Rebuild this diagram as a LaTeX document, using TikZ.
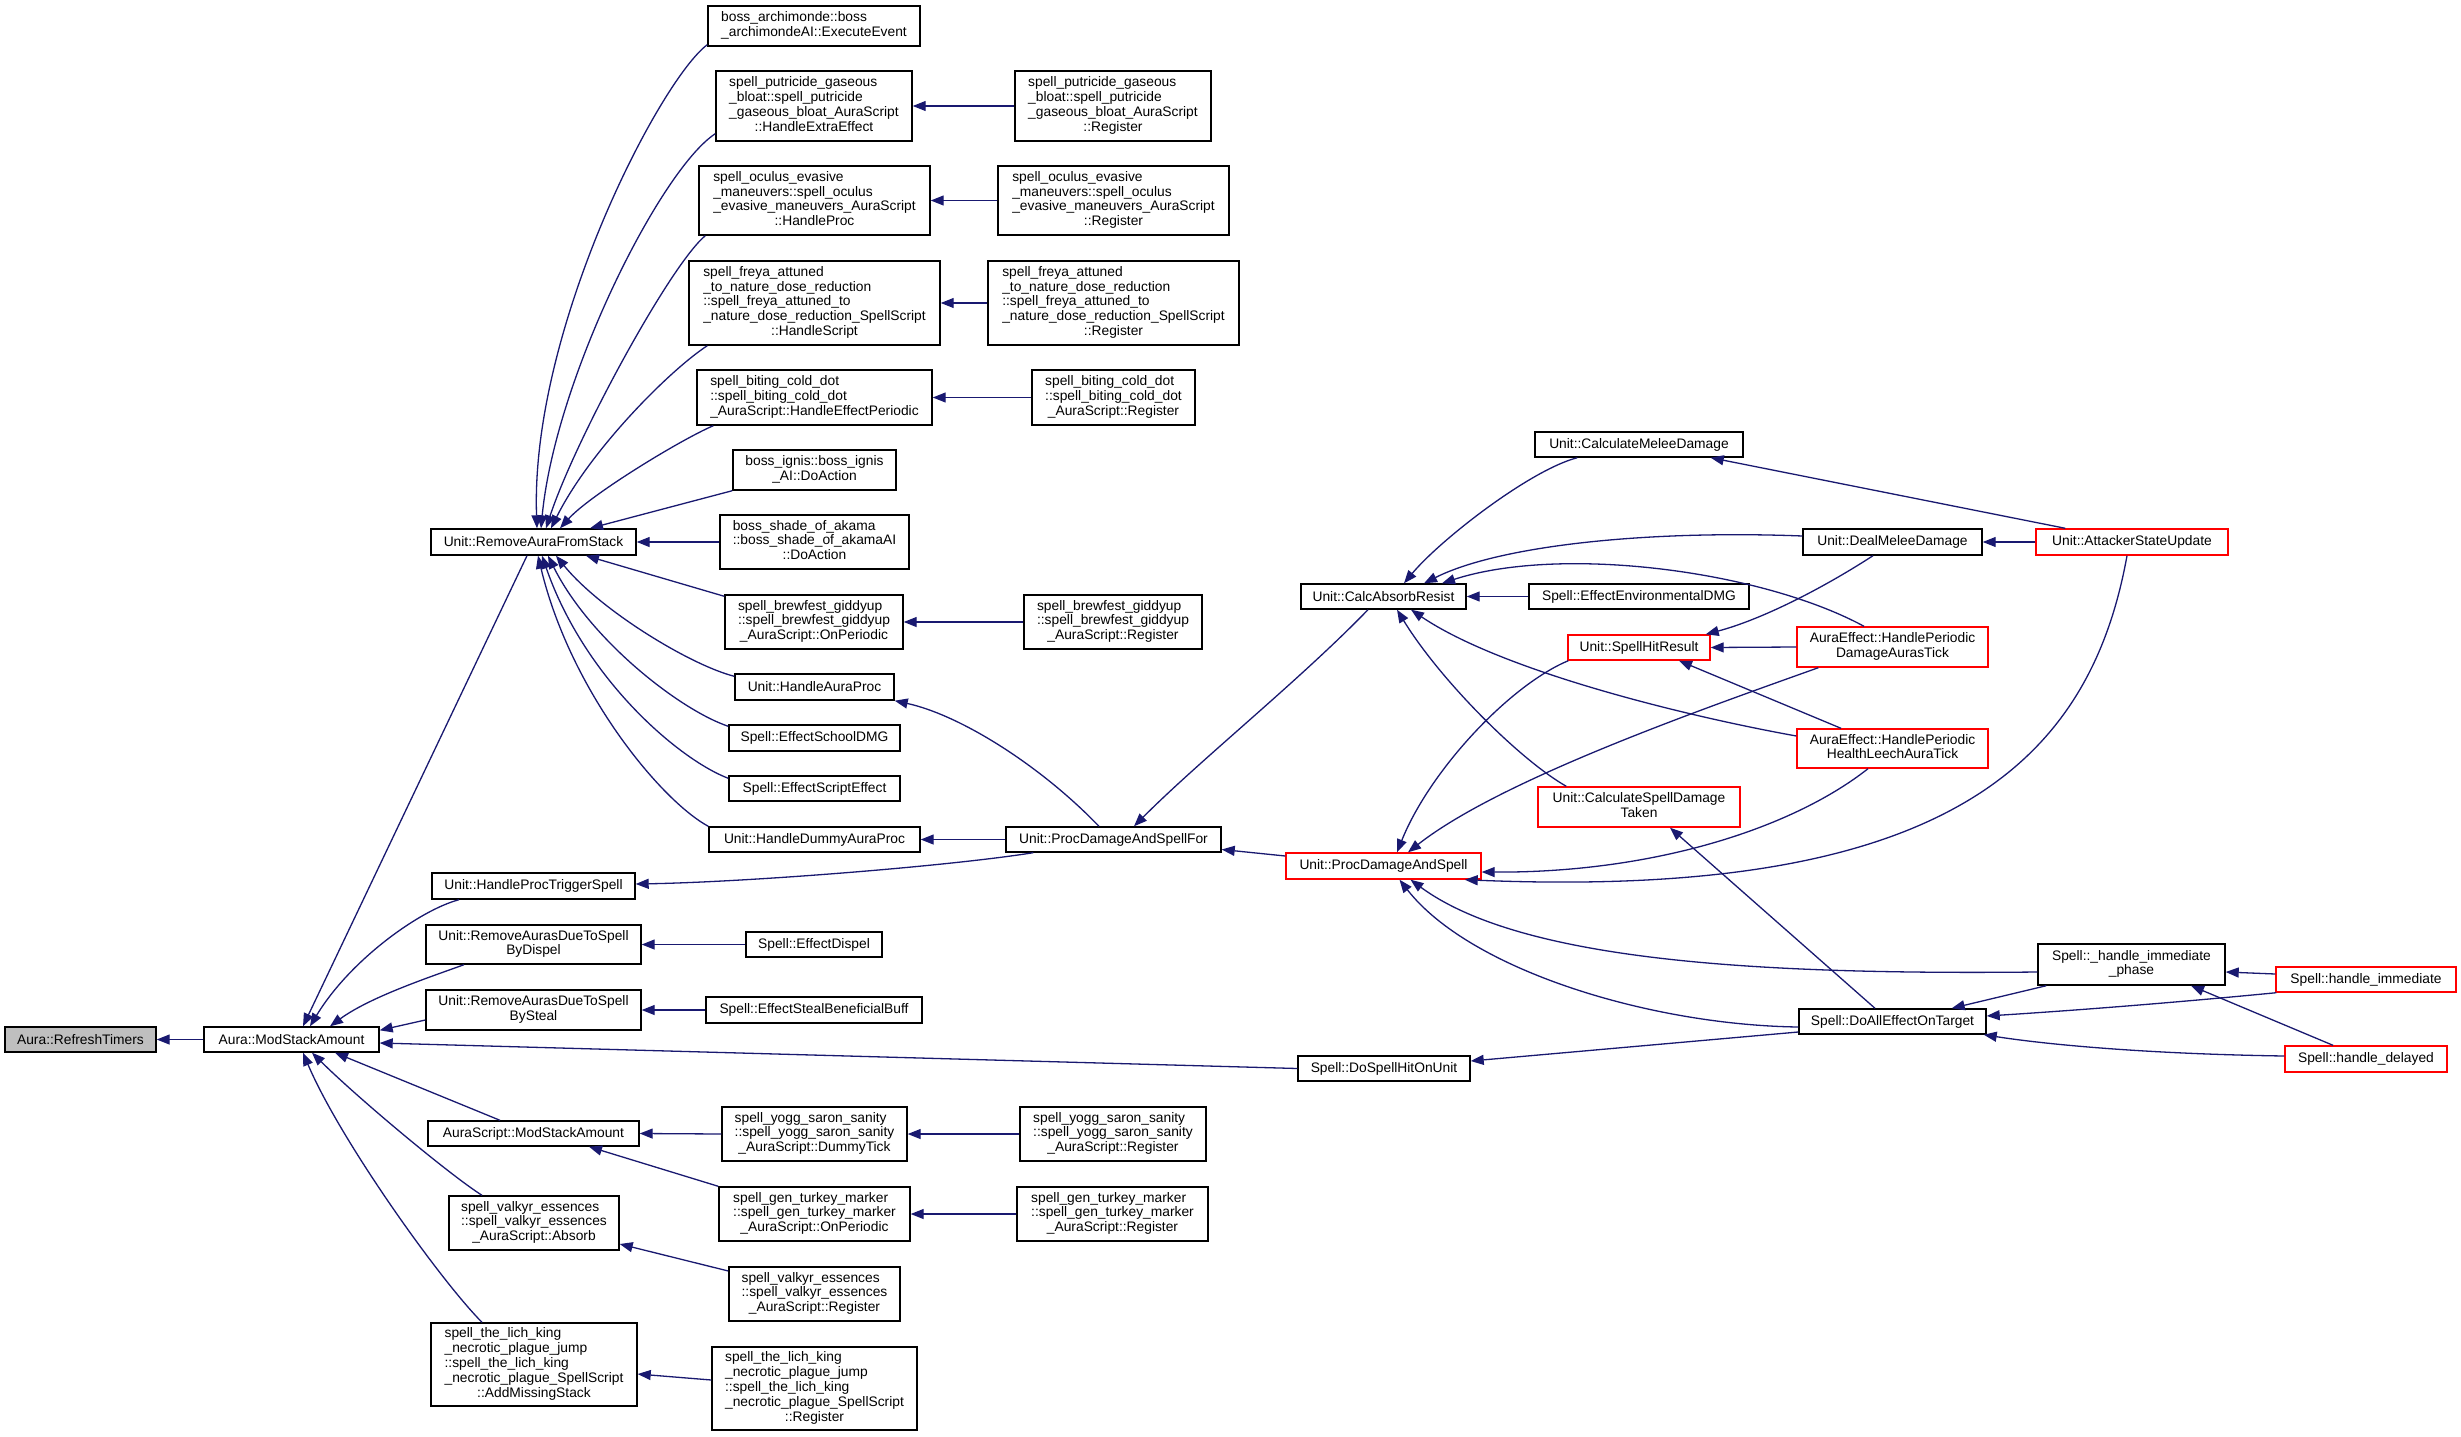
\documentclass[tikz,border=0pt]{standalone}
\usepackage{fontspec}
\setmainfont{Liberation Sans}
\usetikzlibrary{arrows.meta}
\definecolor{edgecol}{HTML}{191970}
\definecolor{nred}{HTML}{FF0000}
\definecolor{ngray}{HTML}{BFBFBF}
\newcommand{\fnt}{\fontsize{13.8}{14.8}\selectfont}
\newcommand{\ml}[2]{\begin{tabular}{@{}l@{}}#1\\\multicolumn{1}{@{}c@{}}{#2}\end{tabular}}
\tikzset{
  nbox/.style={draw=black, line width=1.4pt, fill=white, inner sep=0pt, font=\fnt},
  rbox/.style={nbox, draw=nred},
  gbox/.style={nbox, fill=ngray},
  calledge/.style={draw=edgecol, line width=1.3pt, -{Triangle[length=13pt,width=10pt]}}
}
\begin{document}
\begin{tikzpicture}[x=1pt,y=-1pt]
\useasboundingbox[fill=white] (0,0) rectangle (2461,1437);
% ---------- nodes ----------
\node[gbox, minimum width=151pt, minimum height=25pt] (rt) at (80.5,1039.5) {Aura::RefreshTimers};
\node[nbox, minimum width=175pt, minimum height=25pt] (msa) at (291.5,1039.5) {Aura::ModStackAmount};
\node[nbox, minimum width=205pt, minimum height=26pt] (rafs) at (533.5,542) {Unit::RemoveAuraFromStack};
\node[nbox, minimum width=203pt, minimum height=26pt] (hpts) at (533.5,886) {Unit::HandleProcTriggerSpell};
\node[nbox, minimum width=215pt, minimum height=39pt] (bydispel) at (533.5,944.5) {\ml{Unit::RemoveAurasDueToSpell}{ByDispel}};
\node[nbox, minimum width=215pt, minimum height=40pt] (bysteal) at (533.5,1010) {\ml{Unit::RemoveAurasDueToSpell}{BySteal}};
\node[nbox, minimum width=211pt, minimum height=25pt] (asmsa) at (533.5,1133.5) {AuraScript::ModStackAmount};
\node[nbox, minimum width=170pt, minimum height=54pt] (valkA) at (534,1223) {\ml{spell\_valkyr\_essences\\::spell\_valkyr\_essences}{\_AuraScript::Absorb}};
\node[nbox, minimum width=206pt, minimum height=83pt] (lichA) at (534,1364.5) {\ml{spell\_the\_lich\_king\\\_necrotic\_plague\_jump\\::spell\_the\_lich\_king\\\_necrotic\_plague\_SpellScript}{::AddMissingStack}};
\node[nbox, minimum width=212pt, minimum height=40pt] (arch) at (814,26) {\ml{boss\_archimonde::boss}{\_archimondeAI::ExecuteEvent}};
\node[nbox, minimum width=196pt, minimum height=70pt] (putH) at (814,106) {\ml{spell\_putricide\_gaseous\\\_bloat::spell\_putricide\\\_gaseous\_bloat\_AuraScript}{::HandleExtraEffect}};
\node[nbox, minimum width=231pt, minimum height=69pt] (ocuH) at (814.5,200.5) {\ml{spell\_oculus\_evasive\\\_maneuvers::spell\_oculus\\\_evasive\_maneuvers\_AuraScript}{::HandleProc}};
\node[nbox, minimum width=251pt, minimum height=84pt] (freH) at (814.5,303) {\ml{spell\_freya\_attuned\\\_to\_nature\_dose\_reduction\\::spell\_freya\_attuned\_to\\\_nature\_dose\_reduction\_SpellScript}{::HandleScript}};
\node[nbox, minimum width=235pt, minimum height=55pt] (bitH) at (814.5,397.5) {\ml{spell\_biting\_cold\_dot\\::spell\_biting\_cold\_dot}{\_AuraScript::HandleEffectPeriodic}};
\node[nbox, minimum width=163pt, minimum height=40pt] (ignis) at (814.5,470) {\ml{boss\_ignis::boss\_ignis}{\_AI::DoAction}};
\node[nbox, minimum width=189pt, minimum height=54pt] (shade) at (814.5,542) {\ml{boss\_shade\_of\_akama\\::boss\_shade\_of\_akamaAI}{::DoAction}};
\node[nbox, minimum width=178pt, minimum height=54pt] (brewO) at (814,622) {\ml{spell\_brewfest\_giddyup\\::spell\_brewfest\_giddyup}{\_AuraScript::OnPeriodic}};
\node[nbox, minimum width=159pt, minimum height=26pt] (hap) at (814.5,687) {Unit::HandleAuraProc};
\node[nbox, minimum width=171pt, minimum height=26pt] (esd) at (814.5,738) {Spell::EffectSchoolDMG};
\node[nbox, minimum width=171pt, minimum height=25pt] (ese) at (814.5,788.5) {Spell::EffectScriptEffect};
\node[nbox, minimum width=211pt, minimum height=25pt] (hdap) at (814.5,839.5) {Unit::HandleDummyAuraProc};
\node[nbox, minimum width=196pt, minimum height=70pt] (putR) at (1113,106) {\ml{spell\_putricide\_gaseous\\\_bloat::spell\_putricide\\\_gaseous\_bloat\_AuraScript}{::Register}};
\node[nbox, minimum width=231pt, minimum height=69pt] (ocuR) at (1113.5,200.5) {\ml{spell\_oculus\_evasive\\\_maneuvers::spell\_oculus\\\_evasive\_maneuvers\_AuraScript}{::Register}};
\node[nbox, minimum width=251pt, minimum height=84pt] (freR) at (1113.5,303) {\ml{spell\_freya\_attuned\\\_to\_nature\_dose\_reduction\\::spell\_freya\_attuned\_to\\\_nature\_dose\_reduction\_SpellScript}{::Register}};
\node[nbox, minimum width=163pt, minimum height=55pt] (bitR) at (1113.5,397.5) {\ml{spell\_biting\_cold\_dot\\::spell\_biting\_cold\_dot}{\_AuraScript::Register}};
\node[nbox, minimum width=178pt, minimum height=54pt] (brewR) at (1113,622) {\ml{spell\_brewfest\_giddyup\\::spell\_brewfest\_giddyup}{\_AuraScript::Register}};
\node[nbox, minimum width=215pt, minimum height=25pt] (pdsf) at (1113.5,839.5) {Unit::ProcDamageAndSpellFor};
\node[nbox, minimum width=136pt, minimum height=25pt] (edisp) at (814,944.5) {Spell::EffectDispel};
\node[nbox, minimum width=216pt, minimum height=26pt] (esbb) at (814,1010) {Spell::EffectStealBeneficialBuff};
\node[nbox, minimum width=185pt, minimum height=54pt] (yoggD) at (814.5,1134) {\ml{spell\_yogg\_saron\_sanity\\::spell\_yogg\_saron\_sanity}{\_AuraScript::DummyTick}};
\node[nbox, minimum width=186pt, minimum height=54pt] (yoggR) at (1113,1134) {\ml{spell\_yogg\_saron\_sanity\\::spell\_yogg\_saron\_sanity}{\_AuraScript::Register}};
\node[nbox, minimum width=191pt, minimum height=54pt] (turkO) at (814.5,1214) {\ml{spell\_gen\_turkey\_marker\\::spell\_gen\_turkey\_marker}{\_AuraScript::OnPeriodic}};
\node[nbox, minimum width=191pt, minimum height=54pt] (turkR) at (1112.5,1214) {\ml{spell\_gen\_turkey\_marker\\::spell\_gen\_turkey\_marker}{\_AuraScript::Register}};
\node[nbox, minimum width=171pt, minimum height=54pt] (valkR) at (814.5,1294) {\ml{spell\_valkyr\_essences\\::spell\_valkyr\_essences}{\_AuraScript::Register}};
\node[nbox, minimum width=205pt, minimum height=83pt] (lichR) at (814.5,1388.5) {\ml{spell\_the\_lich\_king\\\_necrotic\_plague\_jump\\::spell\_the\_lich\_king\\\_necrotic\_plague\_SpellScript}{::Register}};
\node[nbox, minimum width=172pt, minimum height=25pt] (dshou) at (1384,1068.5) {Spell::DoSpellHitOnUnit};
\node[nbox, minimum width=165pt, minimum height=25pt] (car) at (1383.5,596.5) {Unit::CalcAbsorbResist};
\node[rbox, minimum width=195pt, minimum height=26pt] (pds) at (1383.5,866) {Unit::ProcDamageAndSpell};
\node[nbox, minimum width=208pt, minimum height=25pt] (cmd) at (1639,444.5) {Unit::CalculateMeleeDamage};
\node[nbox, minimum width=220pt, minimum height=25pt] (eed) at (1639,596.5) {Spell::EffectEnvironmentalDMG};
\node[rbox, minimum width=142pt, minimum height=25pt] (shr) at (1639,647.5) {Unit::SpellHitResult};
\node[rbox, minimum width=202pt, minimum height=40pt] (csdt) at (1639,807) {\ml{Unit::CalculateSpellDamage}{Taken}};
\node[nbox, minimum width=179pt, minimum height=26pt] (dmd) at (1892.5,542) {Unit::DealMeleeDamage};
\node[rbox, minimum width=191pt, minimum height=40pt] (dat) at (1892.5,647) {\ml{AuraEffect::HandlePeriodic}{DamageAurasTick}};
\node[rbox, minimum width=191pt, minimum height=39pt] (hlt) at (1892.5,748.5) {\ml{AuraEffect::HandlePeriodic}{HealthLeechAuraTick}};
\node[nbox, minimum width=187pt, minimum height=25pt] (daot) at (1892.5,1021.5) {Spell::DoAllEffectOnTarget};
\node[rbox, minimum width=192pt, minimum height=26pt] (asu) at (2132,542) {Unit::AttackerStateUpdate};
\node[nbox, minimum width=187pt, minimum height=41pt] (hip) at (2131.5,964.5) {\ml{Spell::\_handle\_immediate}{\_phase}};
\node[rbox, minimum width=180pt, minimum height=25pt] (himm) at (2366,979.5) {Spell::handle\_immediate};
\node[rbox, minimum width=162pt, minimum height=26pt] (hdel) at (2366,1059) {Spell::handle\_delayed};
% ---------- edges ----------
\draw[calledge] (msa.west) -- (rt.east);
\draw[calledge] ([xshift=-6.5pt]rafs.south) -- ([xshift=11.5pt]msa.north);
\draw[calledge] ([xshift=-74.5pt]hpts.south) .. controls (420,910) and (350,960) .. ([xshift=18.5pt]msa.north);
\draw[calledge] ([xshift=-69.5pt]bydispel.south) .. controls (430,977) and (370,997) .. ([xshift=38.5pt]msa.north);
\draw[calledge] ([yshift=-10pt]bysteal.west) -- ([yshift=-4pt]msa.north east);
\draw[calledge] (dshou.west) -- ([yshift=-3.5pt]msa.east);
\draw[calledge] ([xshift=-33.5pt]asmsa.north) -- ([xshift=43.5pt]msa.south);
\draw[calledge] ([xshift=-52pt]valkA.north) .. controls (450,1175) and (360,1100) .. ([xshift=20.5pt]msa.south);
\draw[calledge] ([xshift=-52pt]lichA.north) .. controls (440,1280) and (340,1140) .. ([xshift=11.5pt]msa.south);
% into RemoveAuraFromStack
\draw[calledge] ([yshift=2pt]arch.south west) .. controls (660,80) and (530,330) .. ([xshift=3.5pt]rafs.north);
\draw[calledge] ([yshift=8pt]putH.south west) .. controls (660,170) and (555,380) .. ([xshift=7.5pt]rafs.north);
\draw[calledge] ([xshift=7pt]ocuH.south west) .. controls (670,265) and (575,440) .. ([xshift=12.5pt]rafs.north);
\draw[calledge] ([xshift=19pt]freH.south west) .. controls (670,370) and (590,450) .. ([xshift=17.5pt]rafs.north);
\draw[calledge] ([xshift=17pt]bitH.south west) .. controls (680,440) and (590,495) .. ([xshift=26.5pt]rafs.north);
\draw[calledge] (ignis.south west) -- ([xshift=56.5pt]rafs.north);
\draw[calledge] (shade.west) -- (rafs.east);
\draw[calledge] ([yshift=-2pt]brewO.north west) -- ([xshift=52.5pt]rafs.south);
\draw[calledge] ([yshift=-3pt]hap.north west) .. controls (690,665) and (600,610) .. ([xshift=22.5pt]rafs.south);
\draw[calledge] ([yshift=-2pt]esd.north west) .. controls (680,710) and (590,640) .. ([xshift=14.5pt]rafs.south);
\draw[calledge] ([yshift=-3pt]ese.north west) .. controls (680,760) and (585,680) .. ([xshift=8.5pt]rafs.south);
\draw[calledge] (hdap.north west) .. controls (660,800) and (570,690) .. ([xshift=4.5pt]rafs.south);
% register edges
\draw[calledge] (putR.west) -- (putH.east);
\draw[calledge] (ocuR.west) -- (ocuH.east);
\draw[calledge] (freR.west) -- (freH.east);
\draw[calledge] (bitR.west) -- (bitH.east);
\draw[calledge] (brewR.west) -- (brewO.east);
\draw[calledge] (yoggD.west) -- (asmsa.east);
\draw[calledge] (turkO.north west) -- ([xshift=55.5pt]asmsa.south);
\draw[calledge] (yoggR.west) -- (yoggD.east);
\draw[calledge] (turkR.west) -- (turkO.east);
\draw[calledge] ([yshift=23pt]valkR.west) -- ([yshift=-21pt]valkA.east);
\draw[calledge] ([yshift=8.5pt]lichR.west) -- ([yshift=-9.5pt]lichA.east);
\draw[calledge] (edisp.west) -- (bydispel.east);
\draw[calledge] (esbb.west) -- (bysteal.east);
% ProcDamageAndSpellFor
\draw[calledge] ([xshift=-14.5pt]pdsf.north) .. controls (1040,765) and (960,715) .. (hap.south east);
\draw[calledge] (pdsf.west) -- (hdap.east);
\draw[calledge] ([xshift=28pt]pdsf.south west) .. controls (950,866) and (750,882) .. ([yshift=2pt]hpts.east);
\draw[calledge] ([xshift=-15.5pt]car.south) .. controls (1300,680) and (1200,760) .. ([xshift=20.5pt]pdsf.north);
\draw[calledge] ([yshift=10pt]pds.west) -- ([yshift=-10pt]pdsf.east);
% CalcAbsorbResist
\draw[calledge] ([xshift=43pt]cmd.south west) .. controls (1530,470) and (1440,540) .. ([xshift=20.5pt]car.north);
\draw[calledge] ([yshift=6pt]dmd.west) .. controls (1650,530) and (1500,545) .. ([xshift=40.5pt]car.north);
\draw[calledge] ([xshift=-28.5pt]dat.north) .. controls (1760,570) and (1560,545) .. ([xshift=58.5pt]car.north);
\draw[calledge] (eed.west) -- (car.east);
\draw[calledge] ([yshift=12.5pt]hlt.west) .. controls (1680,715) and (1500,670) .. ([xshift=27.5pt]car.south);
\draw[calledge] ([xshift=29pt]csdt.north west) .. controls (1520,760) and (1440,680) .. ([xshift=13.5pt]car.south);
% melee / hit result
\draw[calledge] (asu.west) -- (dmd.east);
\draw[calledge] ([xshift=30pt]asu.north west) -- ([xshift=-33pt]cmd.south east);
\draw[calledge] ([xshift=-19.5pt]dmd.south) .. controls (1820,590) and (1760,620) .. ([xshift=-5pt]shr.north east);
\draw[calledge] (dat.west) -- (shr.east);
\draw[calledge] ([xshift=-51.5pt]hlt.north) -- ([xshift=40pt]shr.south);
% into ProcDamageAndSpell
\draw[calledge] ([xshift=1pt]shr.south west) .. controls (1510,685) and (1430,770) .. ([xshift=13.5pt]pds.north);
\draw[calledge] ([xshift=22pt]dat.south west) .. controls (1700,710) and (1500,780) .. ([xshift=24.5pt]pds.north);
\draw[calledge] ([xshift=-24.5pt]hlt.south) .. controls (1790,830) and (1650,873) .. ([yshift=-6pt]pds.east);
\draw[calledge] ([xshift=-5pt]asu.south) .. controls (2090,760) and (1950,900) .. ([xshift=-17pt]pds.south east);
\draw[calledge] ([yshift=-7.5pt]hip.west) .. controls (1750,975) and (1520,960) .. ([xshift=27pt]pds.south);
\draw[calledge] ([yshift=-5.5pt]daot.west) .. controls (1650,1025) and (1470,970) .. ([xshift=16pt]pds.south);
% DoAllEffectOnTarget
\draw[calledge] ([xshift=-17.5pt]daot.north) -- ([xshift=31pt]csdt.south);
\draw[calledge] ([yshift=-10.5pt]daot.west) -- ([yshift=7.5pt]dshou.east);
\draw[calledge] ([xshift=9pt]hip.south west) -- ([xshift=-35pt]daot.north east);
\draw[calledge] ([yshift=5.5pt]himm.west) -- ([yshift=-7.5pt]hip.east);
\draw[calledge] ([xshift=1pt]himm.south west) .. controls (2150,1005) and (2050,1012) .. ([yshift=5.5pt]daot.east);
\draw[calledge] ([xshift=-33pt]hdel.north) -- ([xshift=59.5pt]hip.south);
\draw[calledge] ([yshift=3pt]hdel.west) .. controls (2150,1054) and (2050,1045) .. ([xshift=-3pt]daot.south east);
\end{tikzpicture}
\end{document}
